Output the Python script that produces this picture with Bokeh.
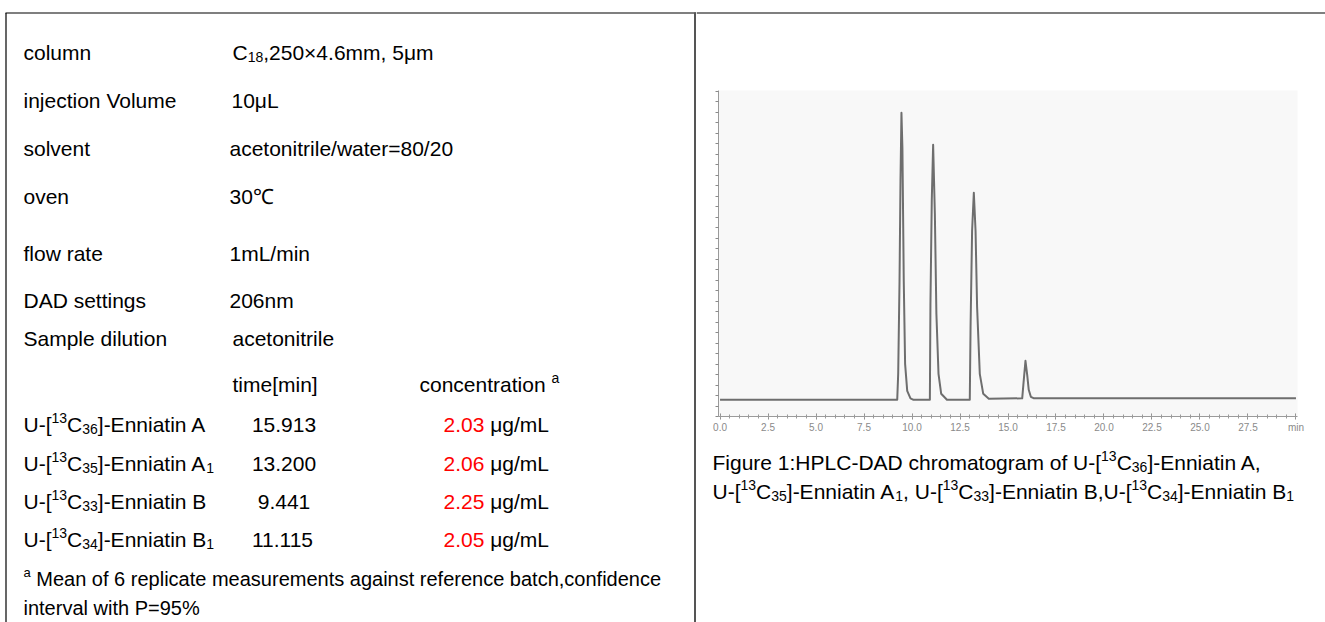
import re
from bokeh.plotting import figure
from bokeh.models import Range1d, FixedTicker, Label
from bokeh.layouts import row, column
from bokeh.embed import file_html
from bokeh.resources import INLINE

# ---------------- data ----------------
param_labels = ["column", "injection Volume", "solvent", "oven", "flow rate",
                "DAD settings", "Sample dilution"]
param_values = ["C_{18},250×4.6mm, 5μm", "10μL", "acetonitrile/water=80/20",
                "30℃", "1mL/min", "206nm", "acetonitrile"]
head_time = "time[min]"
head_conc = "concentration ^{a}"
compounds = ["U-[^{13}C_{36}]-Enniatin A", "U-[^{13}C_{35}]-Enniatin A_{1}",
             "U-[^{13}C_{33}]-Enniatin B", "U-[^{13}C_{34}]-Enniatin B_{1}"]
ret_times = [15.913, 13.200, 9.441, 11.115]
concentrations = [2.03, 2.06, 2.25, 2.05]
conc_unit = " μg/mL"
footnote = ["^{a} Mean of 6 replicate measurements against reference batch,confidence",
            "interval with P=95%"]
caption = ["Figure 1:HPLC-DAD chromatogram of U-[^{13}C_{36}]-Enniatin A,",
           "U-[^{13}C_{35}]-Enniatin A_{1}, U-[^{13}C_{33}]-Enniatin B,U-[^{13}C_{34}]-Enniatin B_{1}"]

# chromatogram trace (time in min, signal in arbitrary units)
trace_time = [0.0, 9.23, 9.28, 9.35, 9.40, 9.45, 9.50, 9.57, 9.64, 9.75, 9.92, 10.08,
              10.93, 10.96, 11.03, 11.10, 11.19, 11.27, 11.38, 11.52, 11.82,
              13.01, 13.05, 13.13, 13.22, 13.31, 13.39, 13.53, 13.71, 14.00,
              15.74, 15.80, 15.91, 16.00, 16.08, 16.19, 16.33, 30.0]
trace_signal = [0, 0, 26, 119, 219, 287, 252, 119, 36, 9, 1.5, 0,
                0, 96, 200, 255, 186, 86, 26, 6, 0,
                0, 73, 169, 207, 169, 93, 26, 6, 1.0,
                1.5, 15, 39, 25, 10, 3, 1.6, 1.6]
x_tick_values = [0, 2.5, 5, 7.5, 10, 12.5, 15, 17.5, 20, 22.5, 25, 27.5, 30]
x_tick_labels = ["0.0", "2.5", "5.0", "7.5", "10.0", "12.5", "15.0", "17.5",
                 "20.0", "22.5", "25.0", "27.5", "min"]

# ---------------- text helpers ----------------
FONT = "Liberation Sans"
TABLE = 21
FOOT = 20
CAP = 21
SCRIPT = 0.65
W = {' ': 278, '!': 278, '"': 355, '#': 556, '$': 556, '%': 889, '&': 667, "'": 191,
     '(': 333, ')': 333, '*': 389, '+': 584, ',': 278, '-': 333, '.': 278, '/': 278,
     ':': 278, ';': 278, '<': 584, '=': 584, '>': 584, '?': 556, '@': 1015,
     'A': 667, 'B': 667, 'C': 722, 'D': 722, 'E': 667, 'F': 611, 'G': 778, 'H': 722,
     'I': 278, 'J': 500, 'K': 667, 'L': 556, 'M': 833, 'N': 722, 'O': 778, 'P': 667,
     'Q': 778, 'R': 722, 'S': 667, 'T': 611, 'U': 722, 'V': 667, 'W': 944, 'X': 667,
     'Y': 667, 'Z': 611, '[': 278, '\\': 278, ']': 278, '^': 469, '_': 556,
     'a': 556, 'b': 556, 'c': 500, 'd': 556, 'e': 556, 'f': 278, 'g': 556, 'h': 556,
     'i': 222, 'j': 222, 'k': 500, 'l': 222, 'm': 833, 'n': 556, 'o': 556, 'p': 556,
     'q': 556, 'r': 333, 's': 500, 't': 278, 'u': 556, 'v': 500, 'w': 722, 'x': 500,
     'y': 500, 'z': 500, '×': 584, 'μ': 576, 'µ': 576}
for d in "0123456789":
    W[d] = 556


def tw(s, size):
    return sum(W.get(ch, 600) for ch in s) / 1000.0 * size


PAT = re.compile(r'(\^\{[^}]*\}|_\{[^}]*\})')


def parse(s):
    segs = []
    for part in PAT.split(s):
        if not part:
            continue
        if part.startswith('^{'):
            segs.append((part[2:-1], 'sup'))
        elif part.startswith('_{'):
            segs.append((part[2:-1], 'sub'))
        else:
            segs.append((part, 'n'))
    return segs


def seg_size(kind, size):
    return size if kind == 'n' else int(round(size * SCRIPT))


def rich(p, s, x, y, size, color="#000000", align="left"):
    """Lay out a run with ^{sup} and _{sub} parts as Labels; y is the text middle."""
    segs = parse(s)
    total = sum(tw(t, seg_size(k, size)) for t, k in segs)
    if align == "center":
        x -= total / 2.0
    for t, k in segs:
        fs = seg_size(k, size)
        dy = 0.0
        if k == 'sup':
            dy = -0.3 * size
        elif k == 'sub':
            dy = 0.2 * size
        lead = len(t) - len(t.lstrip(' '))
        x += tw(' ' * lead, fs)
        core = t.strip(' ')
        if core:
            p.add_layout(Label(x=x, y=y + dy, text=core, text_font=FONT,
                               text_font_size="%dpx" % fs, text_color=color,
                               text_baseline="middle", text_align="left"))
        x += tw(t[lead:], fs)
    return x


def text_fig(w, h, xr, yr):
    p = figure(width=w, height=h, x_range=Range1d(*xr), y_range=Range1d(*yr),
               output_backend="svg", toolbar_location=None,
               x_axis_type=None, y_axis_type=None, min_border=0)
    p.outline_line_color = None
    p.background_fill_color = "white"
    p.border_fill_color = "white"
    return p


# ---------------- left: table ----------------
left = text_fig(696, 622, (0, 696), (622, 0))
left.segment(x0=[5, 5.5, 694.5], y0=[12.5, 12.5, 12], x1=[696, 5.5, 694.5], y1=[12.5, 622, 622],
             line_color=["#000000", "#000000", "#555555"], line_width=[1.2, 1.2, 2])

label_x = 23
value_x = [232, 231, 229, 229, 229, 229, 232]
param_mid = [52, 100, 148, 196, 253, 300, 338]
for lab, val, vx, ym in zip(param_labels, param_values, value_x, param_mid):
    rich(left, lab, label_x, ym, TABLE)
    rich(left, val, vx, ym, TABLE)

rich(left, head_time, 232, 384, TABLE)
rich(left, head_conc, 419, 384, TABLE)

row_mid = [424, 463, 501, 539]
for cmp_, rt, conc, ym in zip(compounds, ret_times, concentrations, row_mid):
    rich(left, cmp_, label_x, ym, TABLE)
    rich(left, "%.3f" % rt, 283.5, ym, TABLE, align="center")
    xe = rich(left, "%.2f" % conc, 443, ym, TABLE, color="#ff0000")
    rich(left, conc_unit, xe, ym, TABLE)

rich(left, footnote[0], label_x, 578, FOOT)
rich(left, footnote[1], label_x, 607, FOOT)

# ---------------- right: top border strip ----------------
strip = text_fig(629, 60, (696, 1325), (60, 0))
strip.segment(x0=[696], y0=[12.5], x1=[1325], y1=[12.5], line_color="#000000", line_width=1.2)

# ---------------- right: chromatogram ----------------
chrom = figure(width=629, height=380, x_range=Range1d(-0.08, 30.08),
               y_range=Range1d(-16.7, 309.3), output_backend="svg",
               toolbar_location=None, min_border_left=22, min_border_right=28,
               min_border_top=30, min_border_bottom=24)
chrom.outline_line_color = None
chrom.background_fill_color = "#f8f8f8"
chrom.border_fill_color = "white"
chrom.grid.visible = False
chrom.line(trace_time, trace_signal, line_color="#6e6e6e", line_width=2.0, line_join="round")

chrom.xaxis.ticker = FixedTicker(ticks=x_tick_values,
                                 minor_ticks=[i * 0.5 for i in range(61)])
chrom.xaxis.major_label_overrides = {v: l for v, l in zip(x_tick_values, x_tick_labels)}
chrom.xaxis.axis_line_color = "#9a9a9a"
chrom.xaxis.major_tick_line_color = "#8a8a8a"
chrom.xaxis.minor_tick_line_color = "#9a9a9a"
chrom.xaxis.major_tick_in = 3
chrom.xaxis.major_tick_out = 3
chrom.xaxis.minor_tick_in = 2
chrom.xaxis.minor_tick_out = 2
chrom.xaxis.major_label_standoff = 2
chrom.xaxis.major_label_text_font = FONT
chrom.xaxis.major_label_text_font_size = "10px"
chrom.xaxis.major_label_text_color = "#8a8a8a"

chrom.yaxis.ticker = FixedTicker(ticks=[-16.7 + 10.5 * k for k in range(32)], minor_ticks=[])
chrom.yaxis.axis_line_color = "#9a9a9a"
chrom.yaxis.major_tick_line_color = "#8a8a8a"
chrom.yaxis.major_tick_in = 0
chrom.yaxis.major_tick_out = 3
chrom.yaxis.major_label_text_font_size = "0px"
chrom.yaxis.major_label_standoff = 0

# ---------------- right: caption ----------------
cap = text_fig(629, 182, (696, 1325), (622, 440))
rich(cap, caption[0], 712, 462, CAP)
rich(cap, caption[1], 712, 491, CAP)

layout = row(left, column(strip, row(chrom), cap))
open("out.html", "w").write(file_html(layout, INLINE))
